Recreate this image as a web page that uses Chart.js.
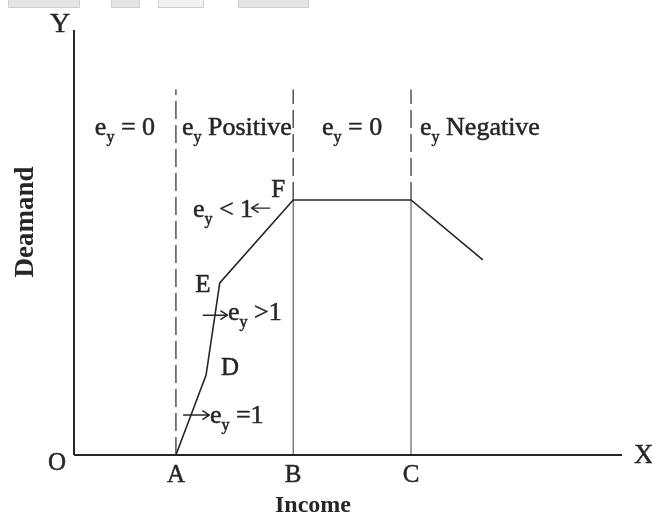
<!DOCTYPE html>
<html>
<head>
<meta charset="utf-8">
<script src="https://cdn.jsdelivr.net/npm/chart.js"></script>
<style>
  html, body { margin: 0; padding: 0; background: #fff; }
  #wrap { position: relative; width: 652px; height: 516px; }
  canvas { display: block; }
  .tab { position: absolute; top: 0; height: 8px; background: #e4e4e4; border: 1px solid #cfcfcf; border-top: none; box-sizing: border-box; }
</style>
</head>
<body>
<div id="wrap">
  <div class="tab" style="left:8px;width:72px"></div>
  <div class="tab" style="left:111px;width:29px"></div>
  <div class="tab" style="left:158px;width:46px;background:#f2f2f2"></div>
  <div class="tab" style="left:238px;width:71px"></div>
  <canvas id="chart" width="652" height="516"></canvas>
</div>
<script>
// Engel curve: points A, D, E, F, C and the falling tail
const curveIncome = [18.6, 24.1, 26.6, 40, 61.5, 74.6];
const curveDemand = [0, 18.8, 40.5, 60, 60, 45.9];

// income levels where the elasticity zones change (A, B, C)
const zoneBreaks = [18.6, 40, 61.5];
const zoneBreakNames = ["A", "B", "C"];
const zoneTop = 86;
const plateau = 60;

// zone captions: e_y + rest of text
const zoneCaptions = [" = 0", " Positive", " = 0", " Negative"];
const captionLevel = 75.3;

// letters next to the kinks of the curve (index into curve arrays)
const kinkNames = ["D", "E", "F"];
const kinkIndex = [1, 2, 3];

// slope notes: [text after e_y, text x, baseline y, arrow from x, arrow to x, arrow y]
const slopeNotes = [
  [" < 1", 21.7, 56.0, 35.8, 32.4, 58.1],
  [" >1", 28.1, 31.8, 23.5, 28.0, 32.9],
  [" =1", 24.8, 7.5, 19.9, 24.7, 9.4],
];

const INK = "#262626";
const SERIF = '"Liberation Serif", "Times New Roman", serif';

const seg = (x0, y0, x1, y1) => [{ x: x0, y: y0 }, { x: x1, y: y1 }];

const lineSet = (data, opts = {}) => ({
  type: "line",
  data,
  borderColor: opts.color || INK,
  borderWidth: opts.width || 1.5,
  borderDash: opts.dash || [],
  pointRadius: 0,
  tension: 0,
  fill: false,
  clip: false,
});

const datasets = [
  lineSet(seg(0, 0, 0, 100), { width: 2 }),
  lineSet(seg(0, 0, 100, 0), { width: 2 }),
  lineSet(curveIncome.map((x, i) => ({ x, y: curveDemand[i] })), { width: 1.6 }),
];

zoneBreaks.forEach((x, i) => {
  if (i === 0) {
    datasets.push(lineSet(seg(x, 0, x, zoneTop), { width: 1.3, dash: [18, 6], color: "#3a3a3a" }));
  } else {
    datasets.push(lineSet(seg(x, 0, x, plateau), { width: 1.1, color: "#555" }));
    datasets.push(lineSet(seg(x, plateau, x, zoneTop), { width: 1.3, dash: [18, 6], color: "#3a3a3a" }));
  }
});

const font = (size, bold) => `${bold ? "bold " : ""}${size}px ${SERIF}`;

// print-like text: fill plus a thin outline so the strokes look heavier
const put = (ctx, text, x, y) => {
  ctx.fillText(text, x, y);
  ctx.strokeText(text, x, y);
};

// "e" with subscript "y" followed by the rest of the caption
const eyWidth = (ctx, rest) => {
  ctx.font = font(26);
  const e = ctx.measureText("e").width;
  const r = ctx.measureText(rest).width;
  ctx.font = font(16);
  const y = ctx.measureText("y").width;
  return e + y + r;
};

const drawEy = (ctx, x, y, rest) => {
  ctx.textAlign = "left";
  ctx.font = font(26);
  put(ctx, "e", x, y);
  x += ctx.measureText("e").width;
  ctx.font = font(16);
  put(ctx, "y", x, y + 7);
  x += ctx.measureText("y").width;
  ctx.font = font(26);
  put(ctx, rest, x, y);
};

const arrow = (ctx, x0, x1, y) => {
  const dir = Math.sign(x1 - x0);
  ctx.save();
  ctx.lineWidth = 1.4;
  ctx.beginPath();
  ctx.moveTo(x0, y);
  ctx.lineTo(x1, y);
  ctx.moveTo(x1 - dir * 7, y - 4.5);
  ctx.lineTo(x1, y);
  ctx.lineTo(x1 - dir * 7, y + 4.5);
  ctx.stroke();
  ctx.restore();
};

const textPlugin = {
  id: "labels",
  afterDatasetsDraw(chart) {
    const { ctx, scales } = chart;
    const px = (v) => scales.x.getPixelForValue(v);
    const py = (v) => scales.y.getPixelForValue(v);
    ctx.save();
    ctx.fillStyle = INK;
    ctx.strokeStyle = INK;
    ctx.lineWidth = 0.5;
    ctx.lineJoin = "round";
    ctx.textBaseline = "alphabetic";

    // zone captions
    const edges = [0, ...zoneBreaks];
    zoneCaptions.forEach((rest, i) => {
      const y = py(captionLevel);
      if (i % 2 === 0) {
        const w = eyWidth(ctx, rest);
        const mid = (px(edges[i]) + px(edges[i + 1] ?? 100)) / 2;
        drawEy(ctx, mid - w / 2, y, rest);
      } else {
        drawEy(ctx, px(edges[i]) + (i === 1 ? 6 : 9), y, rest);
      }
    });

    // slope notes with arrows
    slopeNotes.forEach(([rest, tx, ty, ax0, ax1, ay]) => {
      drawEy(ctx, px(tx), py(ty), rest);
      arrow(ctx, px(ax0), px(ax1), py(ay));
    });

    // kink letters
    const kinkOffsets = [[24, 0], [-17, 9], [-15, -3]];
    ctx.font = font(25);
    ctx.textAlign = "center";
    kinkNames.forEach((name, i) => {
      const k = kinkIndex[i];
      put(ctx, name, px(curveIncome[k]) + kinkOffsets[i][0], py(curveDemand[k]) + kinkOffsets[i][1]);
    });

    // income marks under the axis
    zoneBreakNames.forEach((name, i) => {
      put(ctx, name, px(zoneBreaks[i]), py(0) + 27);
    });
    put(ctx, "O", px(0) - 17, py(0) + 15);

    // axis letters
    ctx.font = font(28);
    put(ctx, "Y", px(0) - 14, py(100) + 2);
    ctx.textAlign = "left";
    ctx.font = font(27);
    put(ctx, "X", px(100) + 12, py(0) + 8);

    // axis titles
    ctx.textAlign = "center";
    ctx.font = font(24, true);
    ctx.fillText("Income", 313, 512);
    ctx.save();
    ctx.translate(33, 222);
    ctx.rotate(-Math.PI / 2);
    ctx.font = font(27, true);
    ctx.fillText("Deamand", 0, 0);
    ctx.restore();

    ctx.restore();
  },
};

new Chart(document.getElementById("chart"), {
  type: "scatter",
  data: { datasets },
  options: {
    responsive: false,
    animation: false,
    events: [],
    layout: { padding: { left: 74, top: 30, right: 30, bottom: 61 } },
    plugins: { legend: { display: false }, tooltip: { enabled: false } },
    scales: {
      x: { type: "linear", min: 0, max: 100, display: false },
      y: { type: "linear", min: 0, max: 100, display: false },
    },
  },
  plugins: [textPlugin],
});
</script>
</body>
</html>
